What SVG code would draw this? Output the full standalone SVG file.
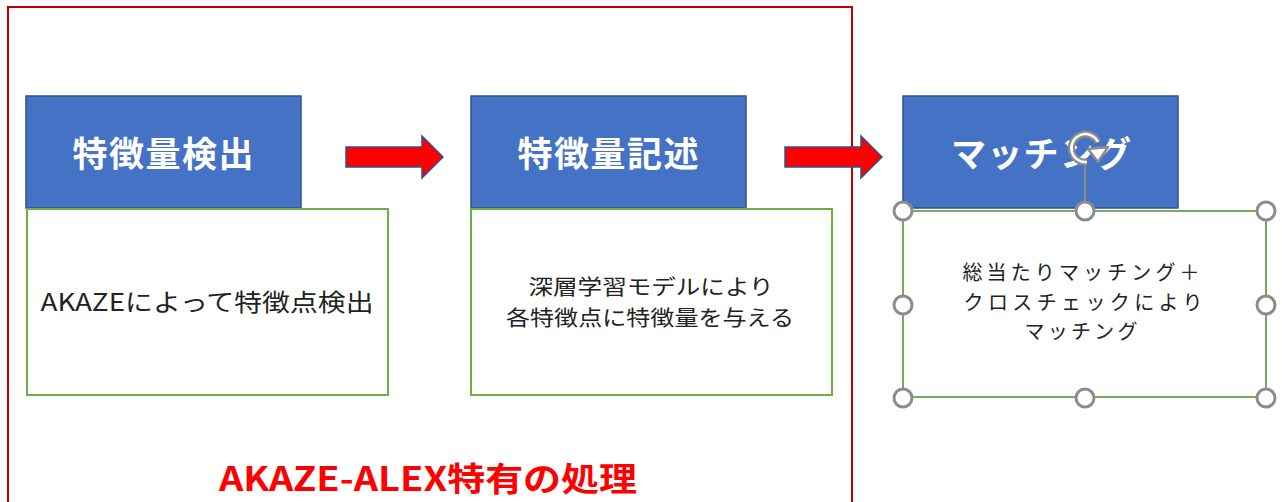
<svg xmlns="http://www.w3.org/2000/svg" width="1282" height="502" viewBox="0 0 1282 502">
<style>
.hdr{fill:#4472c4;stroke:#2f528f;stroke-width:1.5}
.body{fill:#fff;stroke:#70ad47;stroke-width:2}
.ht{font-family:"Noto Sans CJK JP","Noto Sans",sans-serif;font-size:35px;font-weight:bold;fill:#fff;text-anchor:middle}
.bt{font-family:"Noto Sans CJK JP","Noto Sans",sans-serif;font-size:24px;fill:#222;text-anchor:middle}
.b2{font-family:"Noto Sans CJK JP","Noto Sans",sans-serif;font-size:21px;fill:#222;text-anchor:middle}
.st{font-family:"Noto Sans CJK JP","Noto Sans",sans-serif;font-size:20px;fill:#222;text-anchor:middle}
.arr{fill:#ff0000;stroke:#2f528f;stroke-width:1.5}
.hdl{fill:#fff;stroke:#8c8c8c;stroke-width:3}
</style>
<rect width="1282" height="502" fill="#fff"/>
<g id="frame">
<rect x="8" y="7" width="844" height="520" fill="none" stroke="#c00000" stroke-width="2"/>
<text x="428" y="491" font-family="'Noto Sans CJK JP','Noto Sans',sans-serif" font-size="33" font-weight="bold" fill="#ff0000" text-anchor="middle" textLength="418" lengthAdjust="spacingAndGlyphs">AKAZE-ALEX特有の処理</text>
</g>
<g id="detect">
<rect class="hdr" x="26" y="96" width="275" height="112"/>
<text class="ht" x="163" y="167" textLength="181">特徴量検出</text>
<rect class="body" x="27" y="209" width="361" height="186"/>
<text class="bt" x="207" y="311" textLength="333" lengthAdjust="spacingAndGlyphs">AKAZEによって特徴点検出</text>
</g>
<g id="describe">
<rect class="hdr" x="471" y="96" width="275" height="112"/>
<text class="ht" x="608" y="167" textLength="181">特徴量記述</text>
<rect class="body" x="471" y="209" width="361" height="186"/>
<text class="b2" x="651" y="294" textLength="245" lengthAdjust="spacingAndGlyphs">深層学習モデルにより</text>
<text class="b2" x="650" y="325" textLength="288" lengthAdjust="spacingAndGlyphs">各特徴点に特徴量を与える</text>
</g>
<g id="matching">
<rect class="hdr" x="903" y="96" width="275" height="112"/>
<text class="ht" x="1041" y="167" textLength="180">マッチング</text>
<rect class="body" x="903" y="211" width="363" height="186"/>
<rect x="903" y="211" width="363" height="186" fill="none" stroke="#999" stroke-width="1" stroke-dasharray="2 2"/>
<text class="st" x="1081" y="280" textLength="237">総当たりマッチング＋</text>
<text class="st" x="1083" y="310" textLength="239">クロスチェックにより</text>
<text class="st" x="1081" y="339" textLength="113">マッチング</text>
</g>
<g id="connectors">
<polygon class="arr" points="346,147 422,147 422,136 443,157 422,178 422,167 346,167"/>
<polygon class="arr" points="785,147 861,147 861,136 882,157 861,178 861,167 785,167"/>
</g>
<g id="selection">
<line x1="1085" y1="162" x2="1085" y2="211" stroke="#8c8c8c" stroke-width="2"/>
<path d="M1098,142 A14,14 0 1 0 1087,162" fill="none" stroke="#8c8c8c" stroke-width="7"/>
<path d="M1098,142 A14,14 0 1 0 1087,162" fill="none" stroke="#fff" stroke-width="2.5"/>
<polygon points="1088,149 1108,147 1098,162" fill="#fff" stroke="#8c8c8c" stroke-width="2.5" stroke-linejoin="round"/>
<circle class="hdl" cx="903" cy="211" r="9"/>
<circle class="hdl" cx="1085" cy="211" r="9"/>
<circle class="hdl" cx="1266" cy="211" r="9"/>
<circle class="hdl" cx="903" cy="305" r="9"/>
<circle class="hdl" cx="1266" cy="305" r="9"/>
<circle class="hdl" cx="903" cy="398" r="9"/>
<circle class="hdl" cx="1085" cy="398" r="9"/>
<circle class="hdl" cx="1266" cy="398" r="9"/>
</g>
</svg>
